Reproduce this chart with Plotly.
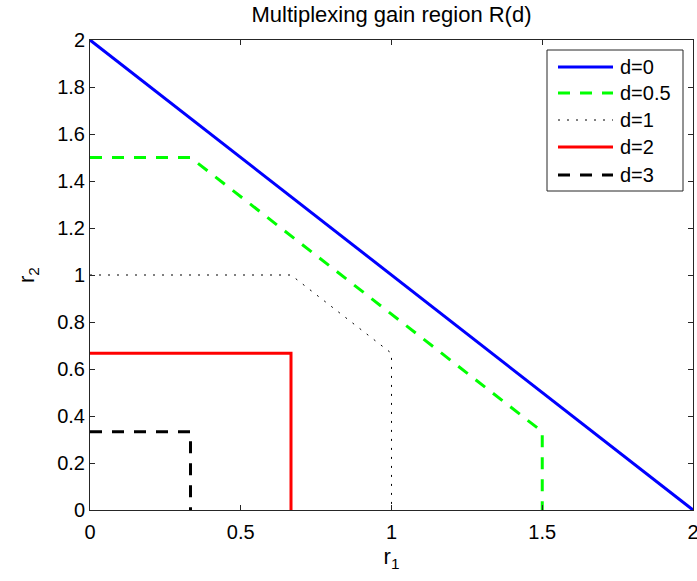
import plotly.graph_objects as go

labels = ["d=0", "d=0.5", "d=1", "d=2", "d=3"]
r1_d0 = [0, 2]
r2_d0 = [2, 0]
r1_d05 = [0, 1/3, 1.5, 1.5]
r2_d05 = [1.5, 1.5, 1/3, 0]
r1_d1 = [0, 2/3, 1, 1]
r2_d1 = [1, 1, 2/3, 0]
r1_d2 = [0, 2/3, 2/3]
r2_d2 = [2/3, 2/3, 0]
r1_d3 = [0, 1/3, 1/3]
r2_d3 = [1/3, 1/3, 0]

xs = [r1_d0, r1_d05, r1_d1, r1_d2, r1_d3]
ys = [r2_d0, r2_d05, r2_d1, r2_d2, r2_d3]
styles = [
    dict(color="#0000ff", width=3, dash="solid"),
    dict(color="#00ff00", width=3, dash="12px,10px"),
    dict(color="#000000", width=1, dash="2px,7px"),
    dict(color="#ff0000", width=3, dash="solid"),
    dict(color="#000000", width=3, dash="12px,10px"),
]

fig = go.Figure()
for x, y, name, ln in zip(xs, ys, labels, styles):
    fig.add_trace(go.Scatter(x=x, y=y, mode="lines", name=name, line=ln, showlegend=False))

font = "Liberation Sans, Arial, sans-serif"

# plot-area pixel geometry (figure 697x581)
L, R, T, B = 90, 693, 40, 510
def px(xp):
    return (xp - L) / (R - L)
def py(yp):
    return 1 - (yp - T) / (B - T)

# legend box drawn in the style of the reference
shapes = [dict(type="rect", xref="paper", yref="paper",
               x0=px(547), x1=px(683), y0=py(191), y1=py(50),
               line=dict(color="#262626", width=1), fillcolor="white", layer="above")]
annotations = []
row_y = [67, 93, 120, 147, 175]
for name, ln, ry in zip(labels, styles, row_y):
    shapes.append(dict(type="line", xref="paper", yref="paper",
                       x0=px(558), x1=px(613), y0=py(ry), y1=py(ry),
                       line=ln, layer="above"))
    annotations.append(dict(text=name, xref="paper", yref="paper",
                            x=px(618), y=py(ry), xanchor="left", yanchor="middle",
                            showarrow=False, font=dict(family=font, size=20, color="black")))

axis_common = dict(
    showgrid=False, zeroline=False, showline=True, linecolor="#262626",
    linewidth=1, mirror="ticks", ticks="inside", ticklen=5, tickcolor="#262626",
    tickfont=dict(family=font, size=20, color="black"),
    automargin=False, ticklabeloverflow="allow",
)
fig.update_layout(
    width=697, height=581,
    margin=dict(l=L, r=697 - R, t=T, b=581 - B),
    paper_bgcolor="white", plot_bgcolor="white",
    title=dict(text="Multiplexing gain region R(d)", x=(L + R) / 2 / 697, xanchor="center",
               y=1 - 14/581, yanchor="middle",
               font=dict(family=font, size=22, color="black")),
    xaxis=dict(range=[0, 2], tickvals=[0, 0.5, 1, 1.5, 2],
               ticktext=["0", "0.5", "1", "1.5", "2"], ticklabelstandoff=4,
               title=dict(text="r<sub>1</sub>", font=dict(family=font, size=22, color="black"), standoff=6),
               **axis_common),
    yaxis=dict(range=[0, 2], tickvals=[0, 0.2, 0.4, 0.6, 0.8, 1, 1.2, 1.4, 1.6, 1.8, 2],
               ticktext=["0", "0.2", "0.4", "0.6", "0.8", "1", "1.2", "1.4", "1.6", "1.8", "2"],
               title=dict(text="r<sub>2</sub>", font=dict(family=font, size=22, color="black"), standoff=16),
               **axis_common),
    shapes=shapes,
    annotations=annotations,
    showlegend=False,
)
fig.write_html("out.html")
